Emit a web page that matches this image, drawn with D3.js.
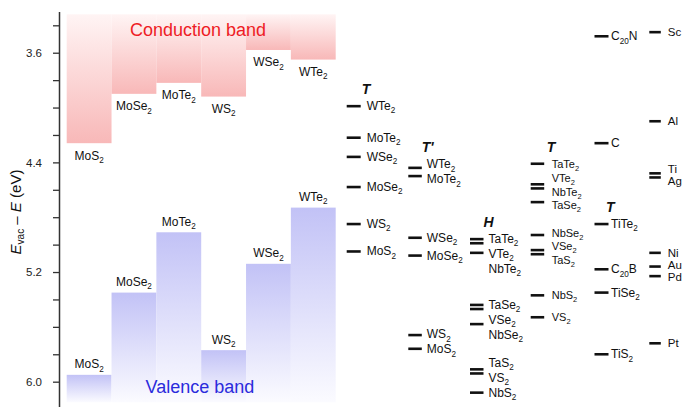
<!DOCTYPE html>
<html><head><meta charset="utf-8">
<script src="https://cdn.jsdelivr.net/npm/d3@7"></script>
<style>
body{margin:0;background:#fff}
svg{display:block}
text{font-family:"Liberation Sans",Arial,Helvetica,sans-serif}
</style>
</head><body>
<svg id="chart" width="685" height="407"></svg>
<script>
// ---------- data ----------
const tmds = ["MoS2","MoSe2","MoTe2","WS2","WSe2","WTe2"];
const cbm  = [4.26, 3.90, 3.82, 3.92, 3.58, 3.65];   // conduction band minimum (eV)
const vbm  = [5.95, 5.35, 4.91, 5.77, 5.14, 4.73];   // valence band maximum (eV)

const yTicks = [3.4, 3.6, 3.8, 4.0, 4.2, 4.4, 4.6, 4.8, 5.0, 5.2, 5.4, 5.6, 5.8, 6.0];
const yTickLabels = ["3.6", "4.4", "5.2", "6.0"];

// level columns
const colTNames   = ["WTe2","MoTe2","WSe2","MoSe2","WS2","MoS2"];
const colTValues  = [3.99, 4.22, 4.36, 4.58, 4.85, 5.05];
const colTpNames  = ["WTe2","MoTe2","WSe2","MoSe2","WS2","MoS2"];
const colTpValues = [4.44, 4.50, 4.95, 5.08, 5.66, 5.76];
const colHNames   = ["TaTe2","VTe2","NbTe2","TaSe2","VSe2","NbSe2","TaS2","VS2","NbS2"];
const colHValues  = [4.96, 4.99, 5.06, 5.44, 5.47, 5.58, 5.91, 5.94, 6.08];
const colT2Names  = ["TaTe2","VTe2","NbTe2","TaSe2","NbSe2","VSe2","TaS2","NbS2","VS2"];
const colT2Values = [4.41, 4.56, 4.59, 4.69, 4.93, 5.04, 5.07, 5.37, 5.53];
const colT3Names  = ["C20N","C","TiTe2","C20B","TiSe2","TiS2"];
const colT3Values = [3.48, 4.26, 4.85, 5.18, 5.35, 5.80];
const metalNames  = ["Sc","Al","Ti","Ag","Ni","Au","Pd","Pt"];
const metalValues = [3.45, 4.10, 4.48, 4.51, 5.06, 5.16, 5.23, 5.72];

const headers = [
  {col:"c1", text:"T",  over:"WTe2"},
  {col:"c2", text:"T'", over:"WTe2"},
  {col:"c3", text:"H",  over:"TaTe2"},
  {col:"c4", text:"T",  over:"TaTe2"},
  {col:"c5", text:"T",  over:"TiTe2"}
];

// ---------- layout ----------
const svg = d3.select("#chart");
const y = d3.scaleLinear().domain([3.3, 6.2]).range([11.6, 409.1]);
const xb = d3.scaleBand().domain(tmds).range([66.7, 335.7]).padding(0);
const labelMaxY = 393;

const columns = [
  {key:"c1", names:colTNames,  values:colTValues,  len:14,   gap:6,   sep:15,   mode:"down",   fs:12},
  {key:"c2", names:colTpNames, values:colTpValues, len:13.5, gap:5,   sep:15,   mode:"center", fs:12},
  {key:"c3", names:colHNames,  values:colHValues,  len:13.5, gap:5,   sep:15,   mode:"down",   fs:12},
  {key:"c4", names:colT2Names, values:colT2Values, len:13.5, gap:7.5, sep:13.5, mode:"center", fs:11},
  {key:"c5", names:colT3Names, values:colT3Values, len:14,   gap:2.5, sep:14,   mode:"down",   fs:12},
  {key:"c6", names:metalNames, values:metalValues, len:11.5, gap:7,   sep:12,   mode:"center", fs:11.5}
];
const xc = d3.scaleOrdinal().domain(columns.map(c=>c.key)).range([346.7, 408.3, 470, 530.7, 594.5, 649.3]);

// subscript-aware formula text
function formula(sel, s, fs){
  const parts = s.match(/[A-Za-z]+|\d+/g);
  let sub = false;
  parts.forEach(p=>{
    const t = sel.append("tspan").text(p);
    if(/\d/.test(p)){ t.attr("font-size", fs*0.68).attr("dy", fs*0.27); sub = true; }
    else if(sub){ t.attr("dy", -fs*0.27); sub = false; }
  });
}

// ---------- gradients ----------
const defs = svg.append("defs");
const cg = defs.append("linearGradient").attr("id","cbGrad").attr("x1",0).attr("y1",0).attr("x2",0).attr("y2",1);
cg.append("stop").attr("offset",0).attr("stop-color","#fff4f4");
cg.append("stop").attr("offset",1).attr("stop-color","#f8b8b8");
const vg = defs.append("linearGradient").attr("id","vbGrad").attr("x1",0).attr("y1",0).attr("x2",0).attr("y2",1);
vg.append("stop").attr("offset",0).attr("stop-color","#c2c2f6");
vg.append("stop").attr("offset",1).attr("stop-color","#fbfbff");

// ---------- bars ----------
const cbTop = 3.32, vbBottom = 6.15;
svg.append("g").selectAll("rect").data(tmds).join("rect")
  .attr("x", d=>xb(d)).attr("width", xb.bandwidth())
  .attr("y", y(cbTop)).attr("height", (d,i)=>y(cbm[i]) - y(cbTop))
  .attr("fill","url(#cbGrad)");
svg.append("g").selectAll("rect").data(tmds).join("rect")
  .attr("x", d=>xb(d)).attr("width", xb.bandwidth())
  .attr("y", (d,i)=>y(vbm[i])).attr("height", (d,i)=>y(vbBottom) - y(vbm[i]))
  .attr("fill","url(#vbGrad)");

// bar labels
const bl = svg.append("g").attr("font-size",12).attr("fill","#111").attr("text-anchor","middle");
tmds.forEach((d,i)=>{
  formula(bl.append("text").attr("x", xb(d)+xb.bandwidth()/2).attr("y", y(cbm[i])+16.5), d, 12);
  formula(bl.append("text").attr("x", xb(d)+xb.bandwidth()/2).attr("y", y(vbm[i])-6.5), d, 12);
});

svg.append("text").attr("x", 198).attr("y", 36).attr("text-anchor","middle")
  .attr("font-size",18).attr("fill","#ee1c25").text("Conduction band");
svg.append("text").attr("x", 200).attr("y", 393).attr("text-anchor","middle")
  .attr("font-size",18).attr("fill","#2b2bdc").text("Valence band");

// ---------- axis ----------
const axis = d3.axisLeft(y).tickValues(yTicks)
  .tickSize(6).tickSizeOuter(0).tickPadding(11)
  .tickFormat(d=>{ const s=d.toFixed(1); return yTickLabels.includes(s)?s:""; });
const ag = svg.append("g").attr("transform","translate(59,0)").call(axis);
ag.select(".domain").attr("stroke","#333").attr("stroke-width",1.5);
ag.selectAll(".tick line").attr("stroke","#333").attr("stroke-width",1.3);
ag.selectAll(".tick text").attr("font-size",11.5).attr("fill","#222")
  .attr("font-family",'"Liberation Sans",Arial,sans-serif');

const title = svg.append("text").attr("transform","translate(21,212) rotate(-90)")
  .attr("text-anchor","middle").attr("font-size",15).attr("fill","#111");
title.append("tspan").attr("font-style","italic").text("E");
title.append("tspan").attr("font-size",10).attr("dy",3).text("vac");
title.append("tspan").attr("dy",-3).text(" \u2013 ");
title.append("tspan").attr("font-style","italic").text("E");
title.append("tspan").text(" (eV)");

// ---------- level columns ----------
function placeLabels(ys, sep, mode){
  const out = ys.slice();
  if(mode==="down"){
    for(let i=1;i<out.length;i++) if(out[i] < out[i-1]+sep) out[i] = out[i-1]+sep;
    const n = out.length;
    out[n-1] = Math.min(out[n-1], labelMaxY);
    for(let i=n-2;i>=0;i--) if(out[i] > out[i+1]-sep) out[i] = out[i+1]-sep;
    return out;
  }
  let clusters = ys.map((v,i)=>({idx:[i], mean:v}));
  let changed = true;
  const pos = c => c.idx.map((_,k)=>c.mean + (k-(c.idx.length-1)/2)*sep);
  while(changed){
    changed = false;
    for(let i=0;i<clusters.length-1;i++){
      const a = clusters[i], b = clusters[i+1];
      const pa = pos(a), pb = pos(b);
      if(pb[0] - pa[pa.length-1] < sep){
        const idx = a.idx.concat(b.idx);
        const mean = d3.mean(idx, j=>ys[j]);
        clusters.splice(i,2,{idx, mean});
        changed = true; break;
      }
    }
  }
  clusters.forEach(c=>pos(c).forEach((p,k)=>out[c.idx[k]]=p));
  return out;
}

const lv = svg.append("g");
const labelCenters = {};
columns.forEach(c=>{
  const x0 = xc(c.key);
  const order = d3.range(c.values.length).sort((a,b)=>c.values[a]-c.values[b]);
  const ly = placeLabels(order.map(i=>y(c.values[i])), c.sep, c.mode);
  const g = lv.append("g");
  g.selectAll("line").data(c.values).join("line")
    .attr("x1", x0).attr("x2", x0 + c.len)
    .attr("y1", d=>y(d)).attr("y2", d=>y(d))
    .attr("stroke","#111").attr("stroke-width",2.6);
  labelCenters[c.key] = {};
  order.forEach((i,k)=>{
    labelCenters[c.key][c.names[i]] = ly[k];
    const t = g.append("text").attr("x", x0 + c.len + c.gap).attr("y", ly[k] + 4)
      .attr("font-size",c.fs).attr("fill","#111");
    formula(t, c.names[i], c.fs);
  });
});

headers.forEach(h=>{
  const c = columns.find(c=>c.key===h.col);
  svg.append("text").attr("x", xc(c.key) + c.len + c.gap - 5)
    .attr("y", labelCenters[h.col][h.over] - 12)
    .attr("font-size",14).attr("font-weight","bold").attr("font-style","italic")
    .attr("fill","#111").text(h.text);
});
</script>
</body></html>
